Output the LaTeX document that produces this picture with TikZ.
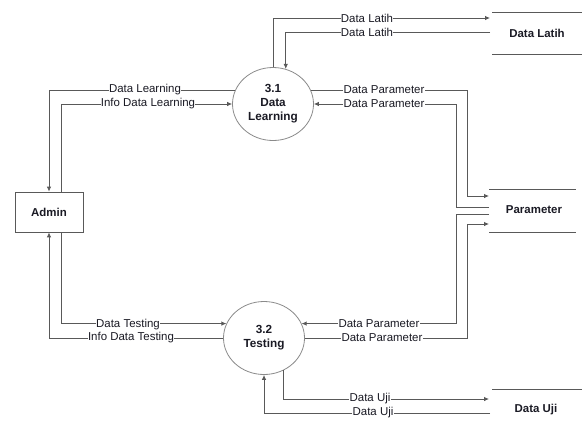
\documentclass[tikz,border=0pt]{standalone}
\usepackage{fontspec}
\setmainfont{Liberation Sans}
\usetikzlibrary{arrows.meta,shapes.geometric}
\definecolor{linegray}{HTML}{595959}
\definecolor{rimgray}{HTML}{8A8A8A}
\definecolor{ink}{HTML}{1A1A24}
\tikzset{
  flow/.style={draw=linegray, line width=0.8pt, -{Latex[length=5pt,width=4.5pt]}},
  plain/.style={draw=linegray, line width=0.8pt},
  lbl/.style={fill=white, inner sep=0.3pt, text=ink, font=\fontsize{11.5}{13}\selectfont},
  proc/.style={ellipse, draw=rimgray, line width=0.8pt, minimum width=81bp, minimum height=73bp, inner sep=0pt,
    align=center, text=ink, font=\bfseries\fontsize{11.8}{14}\selectfont},
  entity/.style={rectangle, draw=linegray, line width=0.8pt, minimum width=68bp, minimum height=40bp,
    text=ink, font=\bfseries\fontsize{11.5}{13}\selectfont},
  storetxt/.style={text=ink, font=\bfseries\fontsize{11.5}{13}\selectfont, inner sep=0pt},
  storeline/.style={draw=linegray, line width=0.8pt}
}
\begin{document}
\begin{tikzpicture}[x=1bp, y=-1bp]
\useasboundingbox (0,0) rectangle (582,431);

% entities and processes
\node[entity] (admin) at (49,212) {Admin};
\node[proc] (p31) at (273,104) {3.1\\Data\\Learning};
\node[proc] (p32) at (264,338) {3.2\\Testing};

% data stores (open-ended boxes)
\draw[storeline] (492,12) -- (582,12);
\draw[storeline] (492,54) -- (582,54);
\node[storetxt] (sLatih) at (537,33) {Data Latih};
\draw[storeline] (489,189) -- (576,189);
\draw[storeline] (489,232) -- (576,232);
\node[storetxt] (sParam) at (534,210) {Parameter};
\draw[storeline] (492,389) -- (582,389);
\node[storetxt] (sUji) at (536,410) {Data Uji};

% connector end points at the stores
\coordinate (latOut) at (490,18);
\coordinate (latIn) at (490,32);
\coordinate (parA) at (489,196);
\coordinate (parB) at (489,207);
\coordinate (parC) at (489,214);
\coordinate (parD) at (489,224);
\coordinate (ujiOut) at (489,399);
\coordinate (ujiIn) at (490,413);

% admin <-> 3.1
\draw[flow] (p31.160) -| (admin.north);
\draw[flow] ([xshift=12bp]admin.north) |- (p31.west);
% 3.1 <-> Data Latih
\draw[flow] (p31.north) |- (latOut);
\draw[flow] (latIn) -| (p31.70);
% 3.1 <-> Parameter
\draw[flow] (p31.19) -| (467,196) -- (parA);
\draw[flow] (parB) -- (456,207) |- (p31.east);
% Parameter <-> 3.2
\draw[flow] (parC) -- (456,214) |- (p32.21);
\draw[flow] (p32.east) -| (467,224) -- (parD);
% admin <-> 3.2
\draw[flow] ([xshift=12bp]admin.south) |- (p32.159);
\draw[flow] (p32.west) -| (admin.south);
% 3.2 <-> Data Uji
\draw[flow] (p32.-59) |- (ujiOut);
\draw[flow] (ujiIn) -| (p32.south);

% flow labels
\node[lbl] (l1) at (145,90) {Data Learning};
\node[lbl] (l2) at (148,104) {Info Data Learning};
\node[lbl] (l3) at (367,18) {Data Latih};
\node[lbl] (l4) at (367,32) {Data Latih};
\node[lbl] (l5) at (384,90) {Data Parameter};
\node[lbl] (l6) at (384,104) {Data Parameter};
\node[lbl] (l7) at (379,324) {Data Parameter};
\node[lbl] (l8) at (382,338) {Data Parameter};
\node[lbl] (l9) at (128,325) {Data Testing};
\node[lbl] (l10) at (131,338) {Info Data Testing};
\node[lbl] (l11) at (370,399) {Data Uji};
\node[lbl] (l12) at (373,413) {Data Uji};
\end{tikzpicture}
\end{document}
